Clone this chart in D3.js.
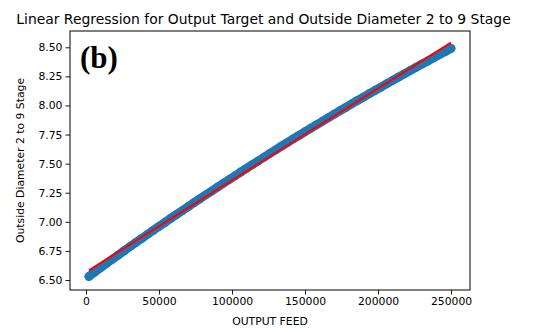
<!DOCTYPE html>
<html>
<head>
<meta charset="utf-8">
<script src="https://cdn.jsdelivr.net/npm/d3@7"></script>
<style>
  body { margin: 0; background: #fff; }
  svg { display: block; }
  text { font-family: "DejaVu Sans", sans-serif; fill: #000; }
</style>
</head>
<body>
<svg id="chart" width="535" height="329"></svg>
<script>
// ---- data ----
const feedValues = [2000, 6000, 10000, 14000, 18000, 22000, 26000, 30000, 34000, 38000,
  42000, 46000, 50000, 54000, 58000, 62000, 66000, 70000, 74000, 78000,
  82000, 86000, 90000, 94000, 98000, 102000, 106000, 110000, 114000, 118000,
  122000, 126000, 130000, 134000, 138000, 142000, 146000, 150000, 154000, 158000,
  162000, 166000, 170000, 174000, 178000, 182000, 186000, 190000, 194000, 198000,
  202000, 206000, 210000, 214000, 218000, 222000, 226000, 230000, 234000, 238000,
  242000, 246000, 250000];
const diameterValues = [6.530, 6.568, 6.605, 6.642, 6.678, 6.714, 6.750, 6.786, 6.821, 6.856,
  6.891, 6.926, 6.960, 6.994, 7.029, 7.063, 7.097, 7.131, 7.165, 7.198,
  7.231, 7.264, 7.297, 7.330, 7.363, 7.395, 7.428, 7.460, 7.492, 7.524,
  7.556, 7.588, 7.619, 7.651, 7.682, 7.713, 7.743, 7.774, 7.805, 7.835,
  7.865, 7.895, 7.925, 7.955, 7.984, 8.014, 8.043, 8.072, 8.101, 8.130,
  8.158, 8.187, 8.215, 8.243, 8.271, 8.299, 8.327, 8.355, 8.382, 8.409,
  8.436, 8.463, 8.490];
const xTicks = [0, 50000, 100000, 150000, 200000, 250000];
const yTicks = [6.50, 6.75, 7.00, 7.25, 7.50, 7.75, 8.00, 8.25, 8.50];
const xLimits = [-10960, 263000];
const yLimits = [6.414, 8.640];
const titleText = "Linear Regression for Output Target and Outside Diameter 2 to 9 Stage";
const xLabel = "OUTPUT FEED";
const yLabel = "Outside Diameter 2 to 9 Stage";
const panelTag = "(b)";

// ---- layout ----
const svg = d3.select("#chart");
const L = 70, R = 470, T = 31, B = 290;
const markerR = 4.4;

const x = d3.scaleLinear().domain(xLimits).range([L, R]);
const y = d3.scaleLinear().domain(yLimits).range([B, T]);

const pts = feedValues.map((v, i) => ({x: v, y: diameterValues[i]}));

// linear regression (least squares) on the scatter data
const mx = d3.mean(pts, d => d.x), my = d3.mean(pts, d => d.y);
const slope = d3.sum(pts, d => (d.x - mx) * (d.y - my)) / d3.sum(pts, d => (d.x - mx) ** 2);
const intercept = my - slope * mx;
const xr = d3.extent(feedValues);
const fitLine = xr.map(v => ({x: v, y: intercept + slope * v}));

// clip
svg.append("defs").append("clipPath").attr("id", "clip")
  .append("rect").attr("x", L).attr("y", T).attr("width", R - L).attr("height", B - T);

const plot = svg.append("g").attr("clip-path", "url(#clip)");

// dense scatter: markers overlap into a continuous band
plot.append("path").datum(pts)
  .attr("d", d3.line().x(d => x(d.x)).y(d => y(d.y)))
  .attr("fill", "none").attr("stroke", "#1f77b4")
  .attr("stroke-width", markerR * 2).attr("stroke-linecap", "round").attr("stroke-linejoin", "round");
plot.selectAll("circle").data(pts).enter().append("circle")
  .attr("cx", d => x(d.x)).attr("cy", d => y(d.y)).attr("r", markerR)
  .attr("fill", "#1f77b4");

plot.append("path").datum(fitLine)
  .attr("d", d3.line().x(d => x(d.x)).y(d => y(d.y)))
  .attr("fill", "none").attr("stroke", "#ff0000").attr("stroke-width", 2);

// axes
const xAxis = svg.append("g").attr("transform", `translate(0,${B})`)
  .call(d3.axisBottom(x).tickValues(xTicks).tickFormat(d3.format("d")).tickSize(4.5).tickPadding(3));
const yAxis = svg.append("g").attr("transform", `translate(${L},0)`)
  .call(d3.axisLeft(y).tickValues(yTicks).tickFormat(d3.format(".2f")).tickSize(4.5).tickPadding(3));
[xAxis, yAxis].forEach(g => {
  g.select(".domain").remove();
  g.selectAll(".tick line").attr("stroke", "#000").attr("stroke-width", 0.9);
  g.selectAll(".tick text").style("font-family", "DejaVu Sans").style("font-size", "10.8px").attr("fill", "#000");
});

// frame
svg.append("rect").attr("x", L).attr("y", T).attr("width", R - L).attr("height", B - T)
  .attr("fill", "none").attr("stroke", "#000").attr("stroke-width", 1);

// texts
svg.append("text").attr("x", 263.5).attr("y", 23.5).attr("text-anchor", "middle")
  .style("font-size", "13.9px").text(titleText);
svg.append("text").attr("x", (L + R) / 2).attr("y", 325).attr("text-anchor", "middle")
  .style("font-size", "10.8px").text(xLabel);
svg.append("text").attr("transform", `translate(24,${(T + B) / 2}) rotate(-90)`)
  .attr("text-anchor", "middle").style("font-size", "10.8px").text(yLabel);
svg.append("text").attr("x", 80).attr("y", 68)
  .style("font-family", "'Liberation Serif', 'Times New Roman', serif")
  .style("font-weight", "bold").style("font-size", "31px").text(panelTag);
</script>
</body>
</html>
